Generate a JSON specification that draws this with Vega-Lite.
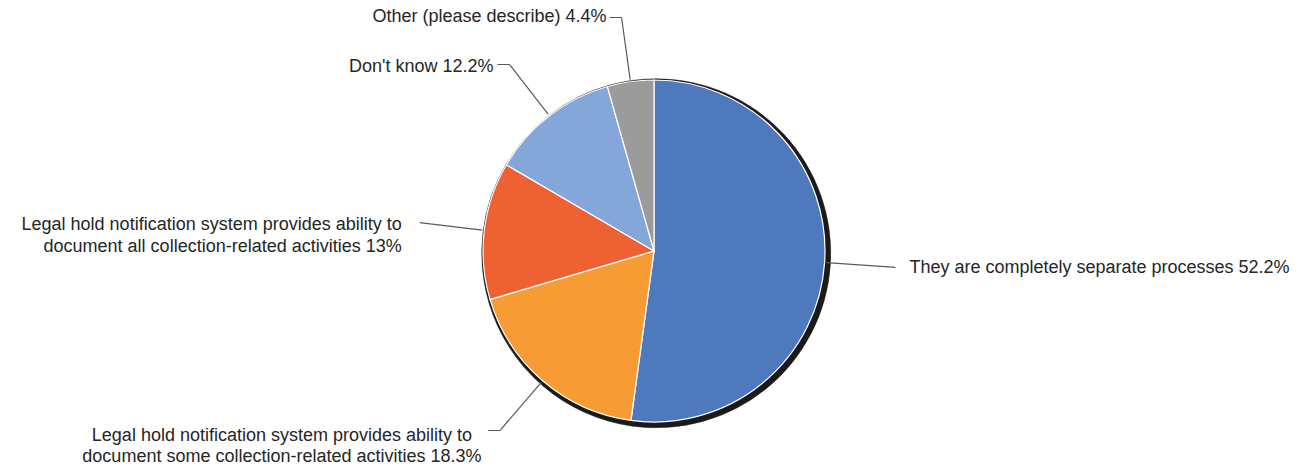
{
  "$schema": "https://vega.github.io/schema/vega-lite/v6.json",
  "autosize": {"type": "none"},
  "width": 1294,
  "height": 438,
  "padding": {"left": 7, "top": 32, "right": 0, "bottom": 0},
  "background": "#ffffff",
  "config": {"view": {"stroke": null}},
  "data": {
    "values": [
      {"rank": 1, "label": "They are completely separate processes", "value": 52.2, "text": "They are completely separate processes 52.2%"},
      {"rank": 2, "label": "Document some collection-related activities", "value": 18.3, "text": "Legal hold notification system provides ability to\ndocument some collection-related activities 18.3%"},
      {"rank": 3, "label": "Document all collection-related activities", "value": 13, "text": "Legal hold notification system provides ability to\ndocument all collection-related activities 13%"},
      {"rank": 4, "label": "Don't know", "value": 12.2, "text": "Don't know 12.2%"},
      {"rank": 5, "label": "Other (please describe)", "value": 4.4, "text": "Other (please describe) 4.4%"}
    ]
  },
  "resolve": {"scale": {"theta": "independent"}},
  "layer": [
    {
      "layer": [
        {
          "mark": {"type": "arc", "radius": 174.5, "xOffset": 2.25, "yOffset": 2.25, "fill": "#1a1a1a", "stroke": "#1a1a1a", "strokeWidth": 0.5},
          "encoding": {
            "theta": {"field": "value", "type": "quantitative", "stack": true},
            "order": {"field": "rank", "type": "quantitative"}
          }
        },
        {
          "mark": {"type": "arc", "radius": 171, "stroke": "#ffffff", "strokeWidth": 1.2},
          "encoding": {
            "theta": {"field": "value", "type": "quantitative", "stack": true},
            "order": {"field": "rank", "type": "quantitative"},
            "color": {
              "field": "rank",
              "type": "nominal",
              "scale": {"domain": [1, 2, 3, 4, 5], "range": ["#4e79bd", "#f79b35", "#ee6133", "#84a6d9", "#9b9b9b"]},
              "legend": null
            }
          }
        },
        {
          "mark": {"type": "arc", "radius": 236, "radius2": 173, "padAngle": 3.1416, "fillOpacity": 0, "stroke": "#5a5a5a", "strokeWidth": 1.2},
          "encoding": {
            "theta": {"field": "value", "type": "quantitative", "stack": true},
            "order": {"field": "rank", "type": "quantitative"},
            "strokeOpacity": {"condition": {"test": "datum.rank === 1", "value": 0}, "value": 1}
          }
        },
        {
          "mark": {"type": "text", "radius": 236, "align": "right", "baseline": "middle", "font": "Liberation Sans", "fontSize": 12, "fill": "#5a5a5a"},
          "encoding": {
            "theta": {"field": "value", "type": "quantitative", "stack": true},
            "order": {"field": "rank", "type": "quantitative"},
            "text": {"condition": {"test": "datum.rank === 2 || datum.rank === 4 || datum.rank === 5", "value": "—"}, "value": ""}
          }
        },
        {
          "mark": {"type": "text", "radius": 256, "align": "left", "baseline": "middle", "font": "Liberation Sans", "fontSize": 18, "fill": "#262626"},
          "encoding": {
            "theta": {"field": "value", "type": "quantitative", "stack": true},
            "order": {"field": "rank", "type": "quantitative"},
            "text": {"condition": {"test": "datum.rank === 1", "field": "text"}, "value": ""}
          }
        },
        {
          "mark": {"type": "text", "radius": 235, "dx": -219, "dy": 7, "align": "center", "baseline": "middle", "lineBreak": "\n", "lineHeight": 21, "font": "Liberation Sans", "fontSize": 18, "fill": "#262626"},
          "encoding": {
            "theta": {"field": "value", "type": "quantitative", "stack": true},
            "order": {"field": "rank", "type": "quantitative"},
            "text": {"condition": {"test": "datum.rank === 2", "field": "text"}, "value": ""}
          }
        },
        {
          "mark": {"type": "text", "radius": 240, "dx": -14, "dy": 3, "align": "right", "baseline": "middle", "lineBreak": "\n", "lineHeight": 22, "font": "Liberation Sans", "fontSize": 18, "fill": "#262626"},
          "encoding": {
            "theta": {"field": "value", "type": "quantitative", "stack": true},
            "order": {"field": "rank", "type": "quantitative"},
            "text": {"condition": {"test": "datum.rank === 3", "field": "text"}, "value": ""}
          }
        },
        {
          "mark": {"type": "text", "radius": 236, "dx": -16, "dy": 3, "align": "right", "baseline": "middle", "font": "Liberation Sans", "fontSize": 18, "fill": "#262626"},
          "encoding": {
            "theta": {"field": "value", "type": "quantitative", "stack": true},
            "order": {"field": "rank", "type": "quantitative"},
            "text": {"condition": {"test": "datum.rank === 4", "field": "text"}, "value": ""}
          }
        },
        {
          "mark": {"type": "text", "radius": 236, "dx": -15, "dy": 0, "align": "right", "baseline": "middle", "font": "Liberation Sans", "fontSize": 18, "fill": "#262626"},
          "encoding": {
            "theta": {"field": "value", "type": "quantitative", "stack": true},
            "order": {"field": "rank", "type": "quantitative"},
            "text": {"condition": {"test": "datum.rank === 5", "field": "text"}, "value": ""}
          }
        }
      ]
    },
    {
      "mark": {"type": "arc", "radius": 242, "radius2": 173, "padAngle": 3.1416, "fillOpacity": 0, "stroke": "#5a5a5a", "strokeWidth": 1.2},
      "encoding": {
        "theta": {"field": "value", "type": "quantitative", "stack": true, "scale": {"range": [0.16389, 5.81876]}},
        "order": {"field": "rank", "type": "quantitative"},
        "strokeOpacity": {"condition": {"test": "datum.rank === 1", "value": 1}, "value": 0}
      }
    }
  ]
}
